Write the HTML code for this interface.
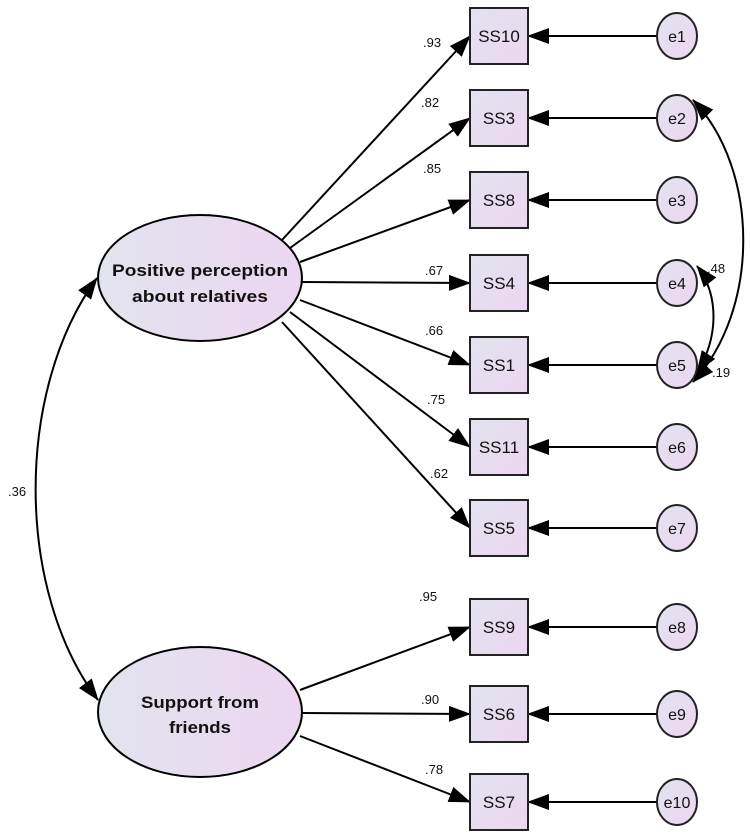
<!DOCTYPE html>
<html><head><meta charset="utf-8"><style>
body{margin:0;background:#fff}
svg{display:block}
text{font-family:"Liberation Sans",sans-serif;fill:#111}
.l{font-size:13px}
.b{font-size:17px}
.e{font-size:16px}
.h{font-size:17px;font-weight:bold}
</style></head><body>
<svg width="750" height="835" viewBox="0 0 750 835">
<defs>
<linearGradient id="g" x1="0" y1="0" x2="1" y2="1">
<stop offset="0" stop-color="#e2e4ee"/><stop offset="1" stop-color="#ecd6f2"/></linearGradient>
<linearGradient id="g2" x1="0" y1="0" x2="1" y2="0">
<stop offset="0" stop-color="#e2e4ee"/><stop offset="1" stop-color="#ecd6f2"/></linearGradient>
<marker id="a" markerWidth="22" markerHeight="16" refX="21" refY="8" orient="auto" markerUnits="userSpaceOnUse">
<path d="M0,0 L22,8 L0,16 z" fill="#000"/></marker>
<marker id="s" markerWidth="22" markerHeight="16" refX="1" refY="8" orient="auto" markerUnits="userSpaceOnUse">
<path d="M22,0 L0,8 L22,16 z" fill="#000"/></marker>
</defs>
<g stroke="#000" stroke-width="2" fill="none">
<line x1="282" y1="240" x2="470" y2="36" marker-end="url(#a)"/>
<line x1="290" y1="248" x2="470" y2="118" marker-end="url(#a)"/>
<line x1="300" y1="262" x2="470" y2="200" marker-end="url(#a)"/>
<line x1="302" y1="282" x2="470" y2="283" marker-end="url(#a)"/>
<line x1="300" y1="300" x2="470" y2="365" marker-end="url(#a)"/>
<line x1="290" y1="312" x2="470" y2="447" marker-end="url(#a)"/>
<line x1="282" y1="322" x2="470" y2="528" marker-end="url(#a)"/>
<line x1="300" y1="690" x2="470" y2="627" marker-end="url(#a)"/>
<line x1="303" y1="713" x2="470" y2="714" marker-end="url(#a)"/>
<line x1="300" y1="736" x2="470" y2="802" marker-end="url(#a)"/>
<line x1="657" y1="36" x2="528" y2="36" marker-end="url(#a)"/>
<line x1="657" y1="118" x2="528" y2="118" marker-end="url(#a)"/>
<line x1="657" y1="200" x2="528" y2="200" marker-end="url(#a)"/>
<line x1="657" y1="283" x2="528" y2="283" marker-end="url(#a)"/>
<line x1="657" y1="365" x2="528" y2="365" marker-end="url(#a)"/>
<line x1="657" y1="447" x2="528" y2="447" marker-end="url(#a)"/>
<line x1="657" y1="528" x2="528" y2="528" marker-end="url(#a)"/>
<line x1="657" y1="627" x2="528" y2="627" marker-end="url(#a)"/>
<line x1="657" y1="714" x2="528" y2="714" marker-end="url(#a)"/>
<line x1="657" y1="802" x2="528" y2="802" marker-end="url(#a)"/>
<path d="M97,278 C15,390 15,590 98,700" marker-start="url(#s)" marker-end="url(#a)"/>
<path d="M693,100 C760,170 760,310 693,382" marker-start="url(#s)" marker-end="url(#a)"/>
<path d="M697,266 C720,295 718,340 697,372" marker-start="url(#s)" marker-end="url(#a)"/>
</g>
<g stroke="#222" stroke-width="2" fill="url(#g)">
<rect x="470" y="8" width="58" height="56"/>
<rect x="470" y="90" width="58" height="56"/>
<rect x="470" y="172" width="58" height="56"/>
<rect x="470" y="255" width="58" height="56"/>
<rect x="470" y="337" width="58" height="56"/>
<rect x="470" y="419" width="58" height="56"/>
<rect x="470" y="500" width="58" height="56"/>
<rect x="470" y="599" width="58" height="56"/>
<rect x="470" y="686" width="58" height="56"/>
<rect x="470" y="774" width="58" height="56"/>
<ellipse cx="677" cy="36" rx="20" ry="23"/>
<ellipse cx="677" cy="118" rx="20" ry="23"/>
<ellipse cx="677" cy="200" rx="20" ry="23"/>
<ellipse cx="677" cy="283" rx="20" ry="23"/>
<ellipse cx="677" cy="365" rx="20" ry="23"/>
<ellipse cx="677" cy="447" rx="20" ry="23"/>
<ellipse cx="677" cy="528" rx="20" ry="23"/>
<ellipse cx="677" cy="627" rx="20" ry="23"/>
<ellipse cx="677" cy="714" rx="20" ry="23"/>
<ellipse cx="677" cy="802" rx="20" ry="23"/>
</g>
<g stroke="#000" stroke-width="2">
<ellipse cx="200" cy="278" rx="102" ry="63" fill="url(#g2)"/>
<ellipse cx="200" cy="712" rx="102" ry="65" fill="url(#g2)"/>
</g>
<g text-anchor="middle">
<text class="h" x="200" y="276" textLength="176" lengthAdjust="spacingAndGlyphs">Positive perception</text>
<text class="h" x="200" y="302" textLength="136" lengthAdjust="spacingAndGlyphs">about relatives</text>
<text class="h" x="200" y="708" textLength="118" lengthAdjust="spacingAndGlyphs">Support from</text>
<text class="h" x="200" y="733" textLength="62" lengthAdjust="spacingAndGlyphs">friends</text>
<text class="b" x="499" y="42">SS10</text>
<text class="b" x="499" y="124">SS3</text>
<text class="b" x="499" y="206">SS8</text>
<text class="b" x="499" y="289">SS4</text>
<text class="b" x="499" y="371">SS1</text>
<text class="b" x="499" y="453">SS11</text>
<text class="b" x="499" y="534">SS5</text>
<text class="b" x="499" y="633">SS9</text>
<text class="b" x="499" y="720">SS6</text>
<text class="b" x="499" y="808">SS7</text>
<text class="e" x="677" y="42">e1</text>
<text class="e" x="677" y="124">e2</text>
<text class="e" x="677" y="206">e3</text>
<text class="e" x="677" y="289">e4</text>
<text class="e" x="677" y="371">e5</text>
<text class="e" x="677" y="453">e6</text>
<text class="e" x="677" y="534">e7</text>
<text class="e" x="677" y="633">e8</text>
<text class="e" x="677" y="720">e9</text>
<text class="e" x="677" y="808">e10</text>
</g>
<g>
<text class="l" x="423" y="47">.93</text>
<text class="l" x="421" y="107">.82</text>
<text class="l" x="423" y="173">.85</text>
<text class="l" x="425" y="275">.67</text>
<text class="l" x="425" y="335">.66</text>
<text class="l" x="427" y="404">.75</text>
<text class="l" x="430" y="478">.62</text>
<text class="l" x="419" y="601">.95</text>
<text class="l" x="421" y="704">.90</text>
<text class="l" x="425" y="774">.78</text>
<text class="l" x="8" y="496">.36</text>
<text class="l" x="707" y="273">.48</text>
<text class="l" x="712" y="377">.19</text>
</g>
</svg>
</body></html>
